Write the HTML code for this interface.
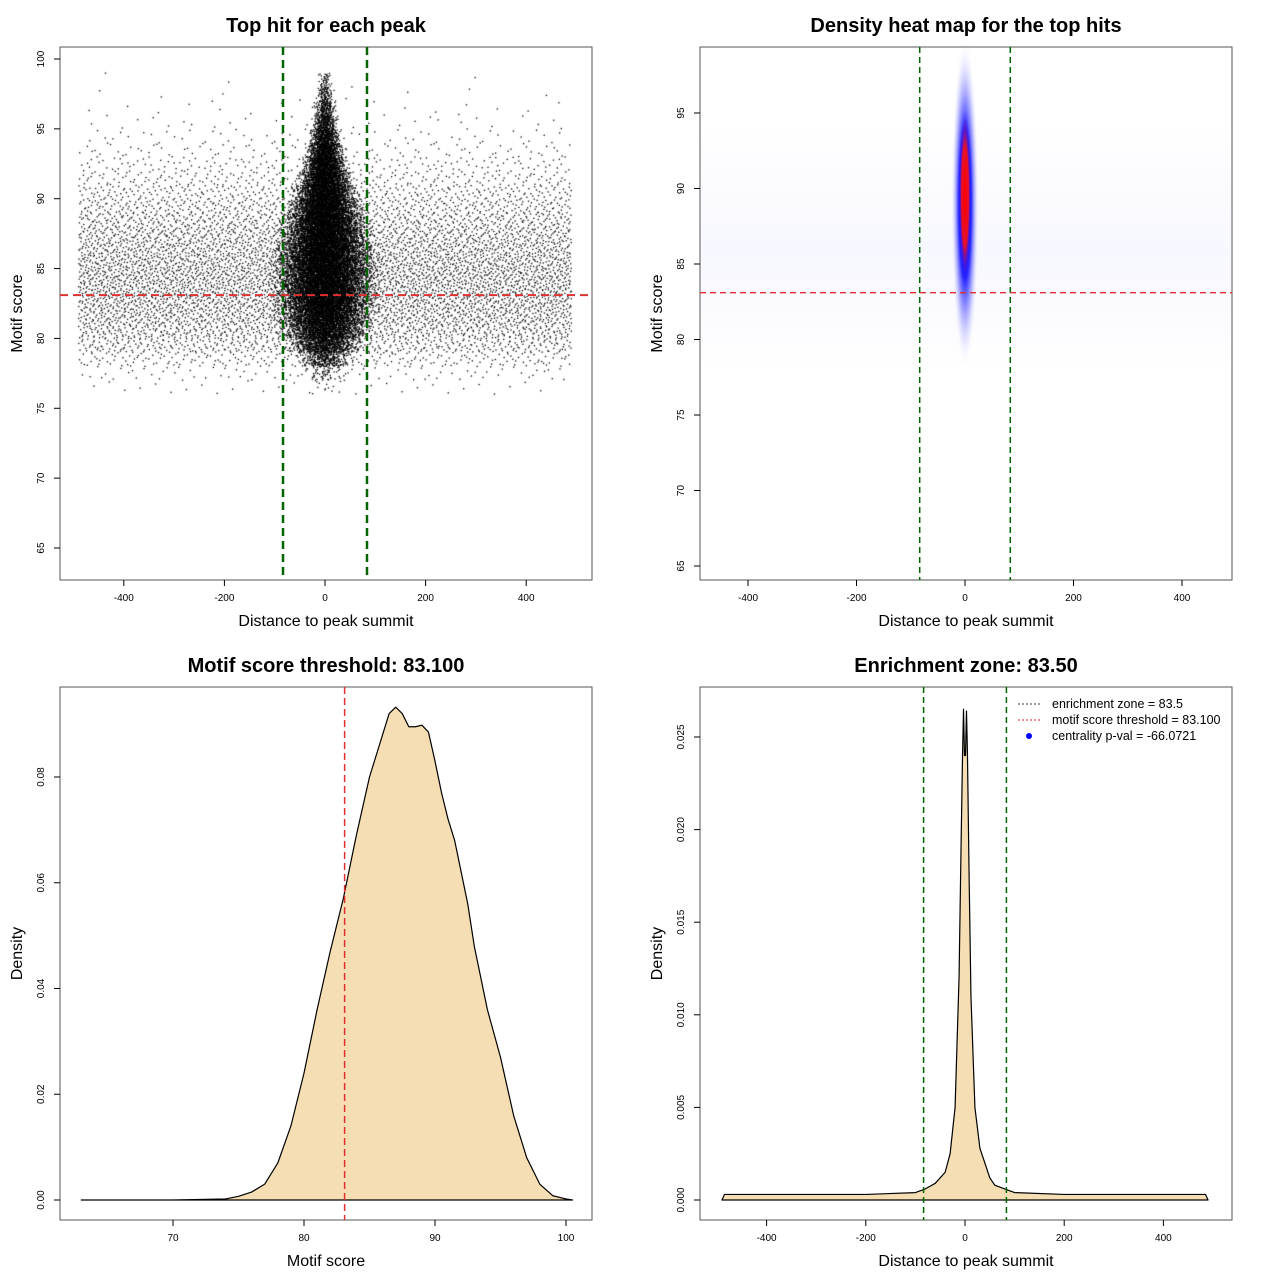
<!DOCTYPE html>
<html><head><meta charset="utf-8"><style>
body{margin:0;background:#fff;width:1280px;height:1280px;overflow:hidden;font-family:"Liberation Sans",sans-serif}
#root{position:relative;width:1280px;height:1280px}
canvas,svg{position:absolute;left:0;top:0}
</style></head><body><div id="root">
<canvas id="cv" width="1280" height="1280"></canvas>
<svg id="sv" width="1280" height="1280" xmlns="http://www.w3.org/2000/svg"></svg>
</div>
<script>
// ---- data ----
const scoreBins=[76,77,78,79,80,81,82,83,84,85,86,87,88,89,90,91,92,93,94,95,96,97,98];
const bgCounts=[30,80,230,420,560,660,720,760,760,720,660,580,480,390,300,210,150,90,55,30,18,8,4];
const centerCounts=[10,60,300,700,1100,1400,1600,1700,1700,1700,1650,1550,1450,1300,1150,950,800,600,420,280,170,90,40];
const centerSpread=[30,35,45,60,70,75,78,80,80,80,75,70,65,58,50,42,35,30,25,20,18,14,12];
const densX=[63,70,74,75,76,77,78,79,80,81,82,83,84,85,86,86.5,87,87.5,88,88.5,89,89.5,90,90.5,91,91.5,92,92.5,93,94,95,96,97,98,99,100,100.5];
const densY=[0,0,0.0002,0.0007,0.0015,0.003,0.007,0.014,0.024,0.036,0.047,0.057,0.069,0.080,0.088,0.092,0.0932,0.092,0.0895,0.0895,0.0898,0.0885,0.083,0.077,0.072,0.068,0.062,0.056,0.048,0.036,0.027,0.016,0.008,0.003,0.0008,0.0002,0];
const distX=[-490,-485,-400,-300,-200,-100,-80,-60,-40,-30,-20,-12,-8,-5,-3,-1,1,3,5,8,12,20,30,40,50,60,80,100,200,300,400,485,490];
const distY=[0,0.0003,0.0003,0.0003,0.0003,0.0004,0.0006,0.0009,0.0015,0.0025,0.005,0.012,0.019,0.024,0.0265,0.024,0.024,0.0264,0.024,0.018,0.011,0.005,0.0028,0.002,0.0012,0.0008,0.0006,0.0004,0.0003,0.0003,0.0003,0.0003,0];
const threshold=83.1, zone=83.5;
const xTicks1=[-400,-200,0,200,400], yTicks1=[65,70,75,80,85,90,95,100];
const yTicks2=[65,70,75,80,85,90,95];
const xTicks3=[70,80,90,100], yTicks3=[0,0.02,0.04,0.06,0.08];
const yTicks4=[0,0.005,0.01,0.015,0.02,0.025];

const NS="http://www.w3.org/2000/svg", sv=document.getElementById('sv');
function el(t,a,p){const e=document.createElementNS(NS,t);for(const k in a)e.setAttribute(k,a[k]);(p||sv).appendChild(e);return e;}
function txt(s,x,y,size,opts){opts=opts||{};const e=el('text',{x:x,y:y,'font-size':size,'text-anchor':opts.anchor||'middle','font-weight':opts.bold?'bold':'normal','font-family':'Liberation Sans, sans-serif',fill:'#000'});if(opts.rot)e.setAttribute('transform','rotate(-90 '+x+' '+y+')');e.textContent=s;return e;}
function lin(d0,p0,d1,p1){return v=>p0+(v-d0)*(p1-p0)/(d1-d0);}

function frame(x0,y0,x1,y1,title,xl,yl,name){
  const b=el('rect',{x:x0,y:y0,width:x1-x0,height:y1-y0,fill:'none',stroke:'#555','stroke-width':1});
  
  const t=txt(title,(x0+x1)/2,y0-15,20,{bold:true});
  const a=txt(xl,(x0+x1)/2,y1+46,16);
  const c=txt(yl,x0-38,(y0+y1)/2,16,{rot:true});
}
function xaxis(ticks,sx,y1,name,fmt){
  ticks.forEach(v=>{const x=sx(v);
    const l=el('line',{x1:x,x2:x,y1:y1,y2:y1+6,stroke:'#000'});
    const t=txt(fmt?fmt(v):String(v),x,y1+21,10);});
}
function yaxis(ticks,sy,x0,name,fmt){
  ticks.forEach(v=>{const y=sy(v);
    const l=el('line',{x1:x0-6,x2:x0,y1:y,y2:y,stroke:'#000'});
    const t=txt(fmt?fmt(v):String(v),x0-16,y,10,{rot:true});});
}
function halton(i,b){let f=1,r=0;while(i>0){f/=b;r+=f*(i%b);i=Math.floor(i/b);}return r;}

// ---- Panel 1: scatter ----
const sx1=lin(0,325,100,375.3), sy1=lin(100,59,65,548);
const ctx=document.getElementById('cv').getContext('2d');
ctx.fillStyle='#000';
let idx=1;
scoreBins.forEach((b,i)=>{
  for(let k=0;k<bgCounts[i];k++,idx++){
    const x=-490+980*halton(idx,2), y=b+halton(idx,3);
    ctx.fillRect(sx1(x)-0.6,sy1(y)-0.6,1.3,1.3);}
  for(let k=0;k<centerCounts[i];k++,idx++){
    const s=halton(idx,2)+halton(idx,5)+halton(idx,7)-1.5;
    const x=s*centerSpread[i], y=b+halton(idx,3);
    ctx.fillRect(sx1(x)-0.6,sy1(y)-0.6,1.3,1.3);}
});
frame(60,47,592,580,'Top hit for each peak','Distance to peak summit','Motif score','scatter');
xaxis(xTicks1,sx1,580,'scatter');yaxis(yTicks1,sy1,60,'scatter');
[['scatter-zone-left',-zone],['scatter-zone-right',zone]].forEach(([n,v])=>{const l=el('line',{x1:sx1(v),x2:sx1(v),y1:47,y2:580,stroke:'#006400','stroke-width':2.5,'stroke-dasharray':'8,5'});});
{const l=el('line',{x1:60,x2:592,y1:sy1(threshold),y2:sy1(threshold),stroke:'#e03030','stroke-width':2,'stroke-dasharray':'8,5'});}

// ---- Panel 2: heatmap ----
const sx2=lin(0,965,200,1073.5), sy2=lin(95,113,65,566);
const defs=el('defs',{});
const g1=el('radialGradient',{id:'gb'},defs);
el('stop',{offset:'0','stop-color':'#0000ff','stop-opacity':1},g1);el('stop',{offset:'0.45','stop-color':'#0000ff','stop-opacity':0.85},g1);el('stop',{offset:'0.75','stop-color':'#6060ff','stop-opacity':0.3},g1);el('stop',{offset:'1','stop-color':'#ffffff','stop-opacity':0},g1);
const g2=el('radialGradient',{id:'gr'},defs);
el('stop',{offset:'0','stop-color':'#ff0000','stop-opacity':1},g2);el('stop',{offset:'0.6','stop-color':'#ff1010','stop-opacity':0.9},g2);el('stop',{offset:'1','stop-color':'#3000ff','stop-opacity':0},g2);
const g3=el('linearGradient',{id:'gbg',x1:0,y1:0,x2:0,y2:1},defs);
el('stop',{offset:'0','stop-color':'#e8e8ff','stop-opacity':0},g3);el('stop',{offset:'0.5','stop-color':'#e8e8ff','stop-opacity':0.35},g3);el('stop',{offset:'1','stop-color':'#e8e8ff','stop-opacity':0},g3);
{const r=el('rect',{x:701,y:sy2(94),width:530,height:sy2(78)-sy2(94),fill:'url(#gbg)'});}
{const e=el('ellipse',{cx:sx2(0),cy:sy2(89),rx:14,ry:sy2(78)-sy2(89),fill:'url(#gb)'});}
{const e=el('ellipse',{cx:sx2(0),cy:sy2(89.5),rx:6,ry:sy2(84)-sy2(89.5),fill:'url(#gr)'});}
frame(700,47,1232,580,'Density heat map for the top hits','Distance to peak summit','Motif score','heatmap');
xaxis(xTicks1,sx2,580,'heatmap');yaxis(yTicks2,sy2,700,'heatmap');
[['heatmap-zone-left',-zone],['heatmap-zone-right',zone]].forEach(([n,v])=>{const l=el('line',{x1:sx2(v),x2:sx2(v),y1:47,y2:580,stroke:'#006400','stroke-width':1.5,'stroke-dasharray':'6,4'});});
{const l=el('line',{x1:700,x2:1232,y1:sy2(threshold),y2:sy2(threshold),stroke:'#e03030','stroke-width':1.3,'stroke-dasharray':'6,4'});}

// ---- Panel 3: score density ----
const sx3=lin(70,173,100,566), sy3=lin(0,1200,0.08,777);
{let d='M'+sx3(densX[0])+','+sy3(0);densX.forEach((v,i)=>d+=' L'+sx3(v)+','+sy3(densY[i]));d+=' L'+sx3(densX[densX.length-1])+','+sy3(0)+'Z';
 const p=el('path',{d:d,fill:'#f5deb3',stroke:'#000','stroke-width':1.2,'stroke-linejoin':'round'});}
frame(60,687,592,1220,'Motif score threshold: 83.100','Motif score','Density','score-density');
xaxis(xTicks3,sx3,1220,'score-density');yaxis(yTicks3,sy3,60,'score-density',v=>v.toFixed(2));
{const l=el('line',{x1:sx3(threshold),x2:sx3(threshold),y1:687,y2:1220,stroke:'#e03030','stroke-width':1.5,'stroke-dasharray':'7,4'});}

// ---- Panel 4: distance density ----
const sx4=lin(0,965,100,1014.6), sy4=lin(0,1200,0.025,737);
{let d='M'+sx4(distX[0])+','+sy4(0);distX.forEach((v,i)=>d+=' L'+sx4(v)+','+sy4(distY[i]));d+='Z';
 const p=el('path',{d:d,fill:'#f5deb3',stroke:'#000','stroke-width':1.2,'stroke-linejoin':'round'});}
frame(700,687,1232,1220,'Enrichment zone: 83.50','Distance to peak summit','Density','enrichment');
xaxis(xTicks1,sx4,1220,'enrichment');yaxis(yTicks4,sy4,700,'enrichment',v=>v.toFixed(3));
[['enrichment-zone-left',-zone],['enrichment-zone-right',zone]].forEach(([n,v])=>{const l=el('line',{x1:sx4(v),x2:sx4(v),y1:687,y2:1220,stroke:'#006400','stroke-width':1.5,'stroke-dasharray':'6,4'});});
const leg=el('g',{});
[['enrichment zone = 83.5','#333','line'],['motif score threshold = 83.100','#e03030','line'],['centrality p-val = -66.0721','#0000ff','dot']].forEach(([s,c,k],i)=>{
  const y=704+i*16;
  if(k==='line'){const l=el('line',{x1:1018,x2:1042,y1:y,y2:y,stroke:c,'stroke-width':1,'stroke-dasharray':'2,2'},leg);}
  else{const d=el('circle',{cx:1029,cy:y,r:3,fill:c},leg);}
  const t=el('text',{x:1052,y:y+4,'font-size':12.5,'font-family':'Liberation Sans, sans-serif',fill:'#000'},leg);t.textContent=s;
});
</script></body></html>
